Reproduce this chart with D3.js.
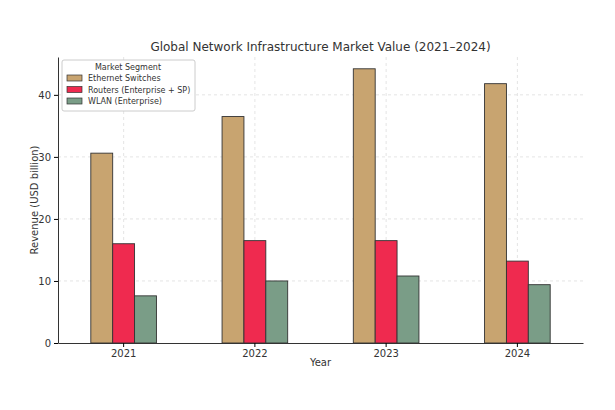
<!DOCTYPE html>
<html><head><meta charset="utf-8">
<script src="https://cdn.jsdelivr.net/npm/d3@7"></script>
<style>body{margin:0;background:#fff}text{font-family:"DejaVu Sans",sans-serif}</style>
</head><body><svg id="c" width="615" height="410"></svg>
<script>
const years = ['2021', '2022', '2023', '2024']
const series = ['Ethernet Switches', 'Routers (Enterprise + SP)', 'WLAN (Enterprise)']
const ethernet = [30.6, 36.5, 44.2, 41.8]
const routers = [16.0, 16.5, 16.5, 13.2]
const wlan = [7.6, 10.0, 10.8, 9.4]
const colors = ['#c8a470', '#ef2a4f', '#7a9d87']
const yTicks = [0, 10, 20, 30, 40]

const values = [ethernet, routers, wlan]
const m = { l: 58, r: 583, t: 57, b: 343 }
const svg = d3.select('#c')

const x = d3.scaleBand().domain(years).range([m.l, m.r]).paddingInner(0.5).paddingOuter(0.25)
const xi = d3.scaleBand().domain(series).range([0, x.bandwidth()])
const y = d3.scaleLinear().domain([0, 46.1]).range([m.b, m.t])

// grid
svg.append('g').selectAll('line.h').data(yTicks.slice(1)).enter().append('line')
  .attr('x1', m.l).attr('x2', m.r).attr('y1', d => y(d)).attr('y2', d => y(d))
  .style('stroke', '#ddd').style('stroke-dasharray', '3,3').style('stroke-width', 0.8)
svg.append('g').selectAll('line.v').data(years).enter().append('line')
  .attr('x1', d => x(d) + x.bandwidth() / 2).attr('x2', d => x(d) + x.bandwidth() / 2)
  .attr('y1', m.t).attr('y2', m.b)
  .style('stroke', '#ddd').style('stroke-dasharray', '3,3').style('stroke-width', 0.8)

// bars
series.forEach((s, i) => {
  svg.append('g').selectAll('rect').data(years).enter().append('rect')
    .attr('x', d => x(d) + xi(s))
    .attr('width', xi.bandwidth())
    .attr('y', (d, j) => y(values[i][j]))
    .attr('height', (d, j) => m.b - y(values[i][j]))
    .style('fill', colors[i]).style('stroke', '#333').style('stroke-width', 0.9)
})

// axes
const ax = svg.append('g').attr('transform', `translate(0,${m.b})`)
  .call(d3.axisBottom(x).tickSize(4).tickSizeOuter(0))
const ay = svg.append('g').attr('transform', `translate(${m.l},0)`)
  .call(d3.axisLeft(y).tickValues(yTicks).tickSize(4).tickSizeOuter(0))
;[ax, ay].forEach(a => {
  a.selectAll('text').style('font-size', '10px').style('fill', '#333')
  a.select('.domain').style('stroke', '#333')
})

svg.append('text').attr('x', (m.l + m.r) / 2).attr('y', 51).attr('text-anchor', 'middle')
  .style('font-size', '12px').style('fill', '#333').text('Global Network Infrastructure Market Value (2021–2024)')
svg.append('text').attr('x', (m.l + m.r) / 2).attr('y', 366).attr('text-anchor', 'middle')
  .style('font-size', '10px').style('fill', '#333').text('Year')
svg.append('text').attr('transform', `translate(38,${(m.t + m.b) / 2}) rotate(-90)`).attr('text-anchor', 'middle')
  .style('font-size', '10px').style('fill', '#333').text('Revenue (USD billion)')

// legend
const lg = svg.append('g').attr('transform', 'translate(62,60)')
lg.append('rect').attr('width', 133).attr('height', 51).attr('rx', 2)
  .style('fill', '#fff').style('fill-opacity', 0.85).style('stroke', '#ccc')
lg.append('text').attr('x', 66).attr('y', 10).attr('text-anchor', 'middle')
  .style('font-size', '8px').style('fill', '#333').text('Market Segment')
series.forEach((s, i) => {
  lg.append('rect').attr('x', 5).attr('y', 15 + i * 11.5).attr('width', 15).attr('height', 6)
    .style('fill', colors[i]).style('stroke', '#333').style('stroke-width', 0.7)
  lg.append('text').attr('x', 26).attr('y', 21 + i * 11.5)
    .style('font-size', '8px').style('fill', '#333').text(s)
})
</script></body></html>
